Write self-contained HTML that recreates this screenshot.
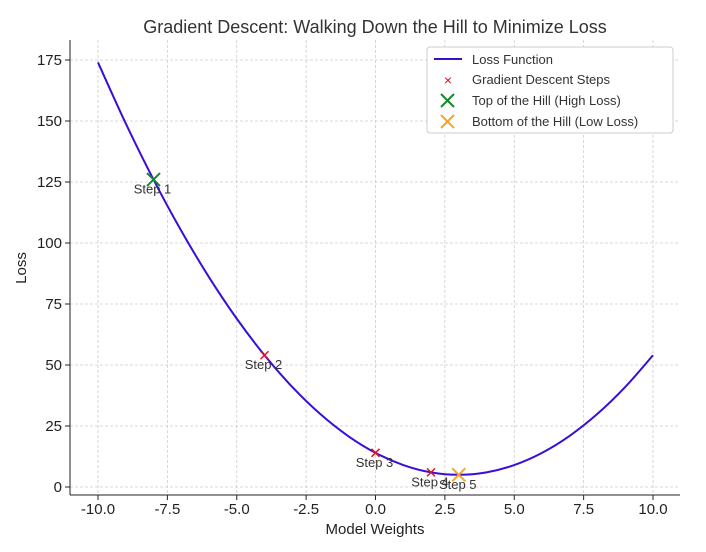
<!DOCTYPE html>
<html><head><meta charset="utf-8"><style>
body{margin:0;background:#fff}
svg{font-family:"Liberation Sans","DejaVu Sans",sans-serif}
</style></head><body>
<svg id="chart" width="706" height="547">
<text x="375" y="33" text-anchor="middle" font-size="18" fill="#333">Gradient Descent: Walking Down the Hill to Minimize Loss</text>
<g id="grid"></g>
<g id="axes"></g>
<g id="marks"></g>
<text x="375" y="534" text-anchor="middle" font-size="15" fill="#222">Model Weights</text>
<text x="26" y="268" text-anchor="middle" font-size="15" fill="#222" transform="rotate(-90 26 268)">Loss</text>
<g>
<rect x="427" y="47" width="246" height="86" fill="#fff" stroke="#ccc" rx="3"/>
<line x1="434" y1="59" x2="462" y2="59" stroke="#3a0dd8" stroke-width="2"/>
<text x="472" y="64" font-size="13" fill="#333">Loss Function</text>
<text x="448" y="85" font-size="14" fill="#e0131e" text-anchor="middle">×</text>
<text x="472" y="84" font-size="13" fill="#333">Gradient Descent Steps</text>
<path d="M441,94 l13,13 M454,94 l-13,13" stroke="#138a2e" stroke-width="2"/>
<text x="472" y="105" font-size="13" fill="#333">Top of the Hill (High Loss)</text>
<path d="M441,115 l13,13 M454,115 l-13,13" stroke="#f5a623" stroke-width="2"/>
<text x="472" y="126" font-size="13" fill="#333">Bottom of the Hill (Low Loss)</text>
</g>
</svg>
<script>
const curveX=[-10,-9,-8,-7,-6,-5,-4,-3,-2,-1,0,1,2,3,4,5,6,7,8,9,10];
const curveY=[174,149,126,105,86,69,54,41,30,21,14,9,6,5,6,9,14,21,30,41,54];
const stepX=[-8,-4,0,2,3];
const stepY=[126,54,14,6,5];
const stepLabels=["Step 1","Step 2","Step 3","Step 4","Step 5"];
const xTicks=[-10,-7.5,-5,-2.5,0,2.5,5,7.5,10];
const yTicks=[0,25,50,75,100,125,150,175];
const topPt=[-8,126], bottomPt=[3,5];
const NS="http://www.w3.org/2000/svg";
const sx=v=>98+(v+10)*27.75;
const sy=v=>487-v*2.44;
function mk(t,a,p){const e=document.createElementNS(NS,t);for(const k in a)e.setAttribute(k,a[k]);p.appendChild(e);return e;}
const grid=document.getElementById('grid'),axes=document.getElementById('axes'),marks=document.getElementById('marks');
xTicks.forEach(t=>{
 const g=mk('line',{x1:sx(t),x2:sx(t),y1:40,y2:495,stroke:'#ccc','stroke-dasharray':'3,2','stroke-width':0.8},grid);
 
 mk('line',{x1:sx(t),x2:sx(t),y1:495,y2:500,stroke:'#222'},axes);
 const l=mk('text',{x:sx(t),y:514,'text-anchor':'middle','font-size':15,fill:'#222'},axes);l.textContent=t.toFixed(1);
 
});
yTicks.forEach(t=>{
 const g=mk('line',{x1:70,x2:680,y1:sy(t),y2:sy(t),stroke:'#ccc','stroke-dasharray':'3,2','stroke-width':0.8},grid);
 
 mk('line',{x1:65,x2:70,y1:sy(t),y2:sy(t),stroke:'#222'},axes);
 const l=mk('text',{x:62,y:sy(t)+5,'text-anchor':'end','font-size':15,fill:'#222'},axes);l.textContent=t;
 
});
mk('line',{x1:70,x2:70,y1:40,y2:495,stroke:'#222'},axes);
mk('line',{x1:70,x2:680,y1:495,y2:495,stroke:'#222'},axes);
let d='M'+sx(curveX[0])+','+sy(curveY[0]);
for(let i=0;i<curveX.length-1;i++){
 const p0=[sx(curveX[Math.max(i-1,0)]),sy(curveY[Math.max(i-1,0)])],p1=[sx(curveX[i]),sy(curveY[i])],p2=[sx(curveX[i+1]),sy(curveY[i+1])],p3=[sx(curveX[Math.min(i+2,curveX.length-1)]),sy(curveY[Math.min(i+2,curveX.length-1)])];
 d+=` C${p1[0]+(p2[0]-p0[0])/6},${p1[1]+(p2[1]-p0[1])/6} ${p2[0]-(p3[0]-p1[0])/6},${p2[1]-(p3[1]-p1[1])/6} ${p2[0]},${p2[1]}`;
}
const c=mk('path',{d:d,fill:'none',stroke:'#3a0dd8','stroke-width':2},marks);

stepX.forEach((x,i)=>{
 const X=sx(x),Y=sy(stepY[i]);
 const m=mk('path',{d:`M${X-4},${Y-4} l8,8 M${X+4},${Y-4} l-8,8`,stroke:'#e0131e','stroke-width':1.5},marks);
 
 const t=mk('text',{x:X-1,y:Y+14,'text-anchor':'middle','font-size':13,fill:'#333'},marks);t.textContent=stepLabels[i];
 
});
[[topPt,'#138a2e','top-of-hill-marker'],[bottomPt,'#f5a623','bottom-of-hill-marker']].forEach(([p,col,n])=>{
 const X=sx(p[0]),Y=sy(p[1]);
 const m=mk('path',{d:`M${X-6.5},${Y-6.5} l13,13 M${X+6.5},${Y-6.5} l-13,13`,stroke:col,'stroke-width':2},marks);
 
});
</script>
</body></html>
